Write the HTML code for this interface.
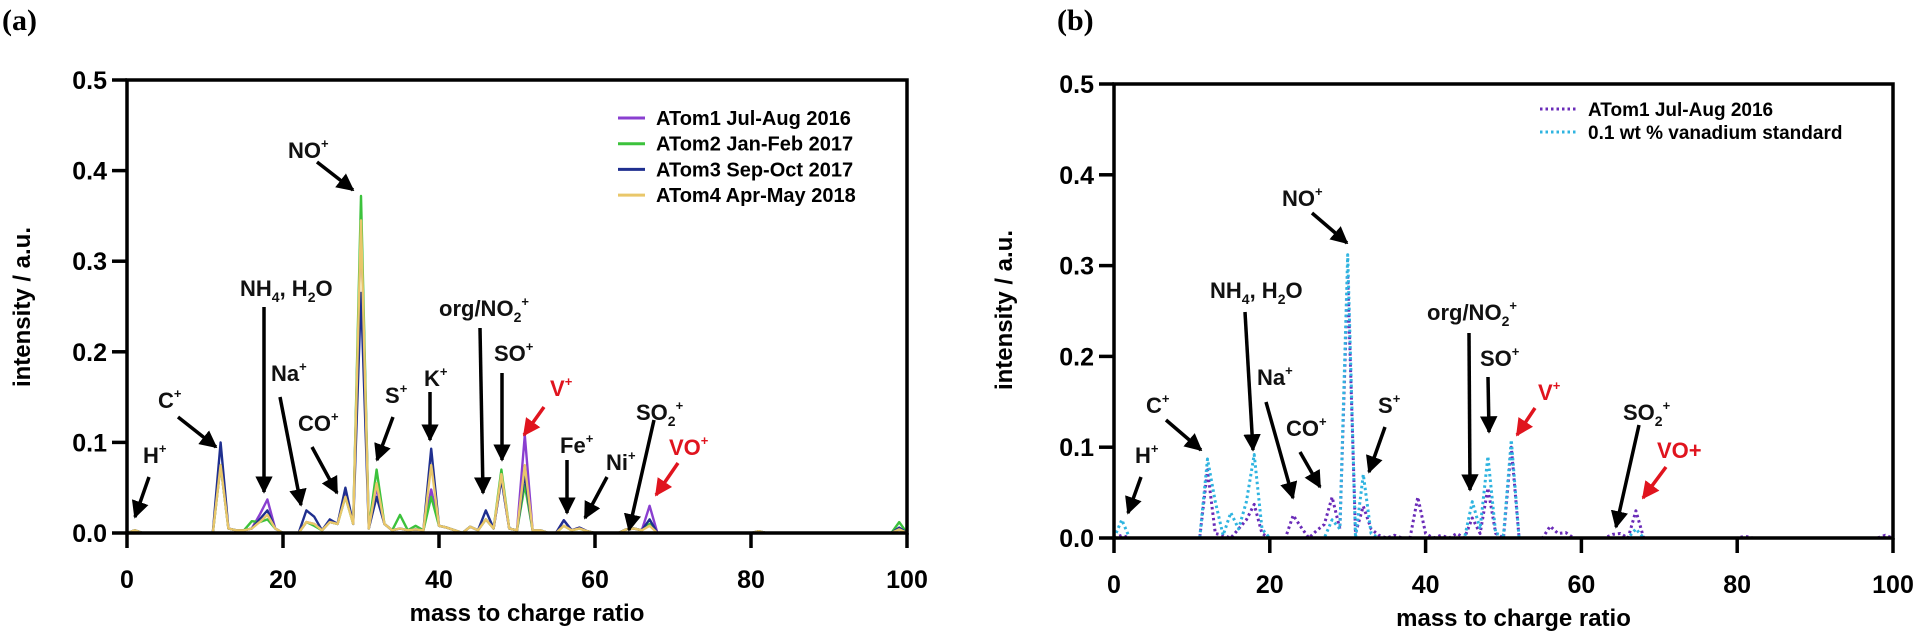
<!DOCTYPE html>
<html><head><meta charset="utf-8">
<style>
html,body{margin:0;padding:0;background:#fff;}
svg{display:block;font-family:"Liberation Sans",Arial,sans-serif;font-weight:bold;}
</style></head>
<body>
<svg id="fig" width="1915" height="635" viewBox="0 0 1915 635" xmlns="http://www.w3.org/2000/svg">
<defs>
<marker id="ak" viewBox="0 0 10 10" refX="9" refY="5" markerWidth="5" markerHeight="5" orient="auto" markerUnits="strokeWidth"><path d="M0,0 L10,5 L0,10 z" fill="#000"/></marker>
<marker id="ar" viewBox="0 0 10 10" refX="9" refY="5" markerWidth="5" markerHeight="5" orient="auto" markerUnits="strokeWidth"><path d="M0,0 L10,5 L0,10 z" fill="#e0141e"/></marker>
</defs>
<g id="pa"></g>
<g id="pb"></g>
</svg>
<script>
// ---------- data ----------
const massesA = [1,12,13,14,15,16,17,18,19,23,24,25,26,27,28,29,30,31,32,33,34,35,36,37,38,39,40,41,42,44,45,46,47,48,49,50,51,52,53,56,57,58,59,64,65,66,67,81,99];
const atom1 = [.003,.075,.005,.003,.003,.005,.02,.037,.005,.012,.01,.003,.012,.01,.045,.01,.35,.005,.05,.01,.003,.005,.003,.004,.003,.048,.008,.006,.003,.007,.003,.015,.005,.06,.005,.003,.108,.003,.003,.014,.003,.006,.002,.004,.005,.003,.03,.002,.004];
const atom2 = [.003,.075,.005,.003,.003,.013,.012,.015,.005,.012,.008,.003,.012,.01,.04,.01,.372,.005,.07,.01,.003,.02,.003,.008,.003,.04,.008,.006,.003,.007,.003,.015,.005,.07,.005,.003,.053,.003,.003,.008,.003,.005,.002,.004,.005,.003,.01,.002,.012];
const atom3 = [.003,.10,.005,.003,.003,.005,.015,.025,.005,.025,.018,.003,.015,.01,.05,.01,.265,.005,.04,.01,.003,.005,.003,.004,.003,.093,.008,.006,.003,.007,.003,.025,.005,.06,.005,.003,.065,.003,.003,.014,.003,.006,.002,.004,.005,.003,.015,.002,.006];
const atom4 = [.003,.075,.005,.003,.003,.005,.012,.02,.005,.012,.01,.003,.012,.01,.04,.01,.345,.005,.055,.01,.003,.005,.003,.004,.003,.075,.008,.006,.003,.007,.003,.015,.005,.065,.005,.003,.075,.003,.003,.008,.003,.005,.002,.004,.005,.003,.008,.002,.004];
const massesB = [1,12,13,14,15,16,17,18,19,23,24,26,27,28,29,30,31,32,33,34,36,39,40,42,44,46,47,48,49,50,51,56,57,58,64,65,67,81,99];
const vStandard = [.02,.087,.04,.003,.028,.01,.04,.092,.01,0,0,0,0,.02,.01,.312,0,.07,.005,0,0,0,0,0,0,.04,.01,.09,.005,.003,.108,0,0,0,0,0,.01,0,0];
const atom1B = [.003,.075,.005,.003,0,.01,.02,.037,.005,.025,.012,.008,.015,.045,.01,.29,.005,.035,.01,.003,.003,.045,.005,.003,.005,.022,.005,.055,.005,0,.1,.013,.005,.006,.004,.005,.03,.002,.003];
const xTicks = [0,20,40,60,80,100];
const yTicks = [0,0.1,0.2,0.3,0.4,0.5];
const yTickLabels = ["0.0","0.1","0.2","0.3","0.4","0.5"];

const NS="http://www.w3.org/2000/svg";
function mk(tag, parent, attrs){const e=document.createElementNS(NS,tag);for(const k in attrs)e.setAttribute(k,attrs[k]);parent.appendChild(e);return e;}

function full(masses, vals){const a=new Array(101).fill(0);masses.forEach((m,i)=>{a[m]=vals[i]||0;});return a;}

function drawPanel(g, cfg){
  const sx=v=>cfg.x0+(cfg.x1-cfg.x0)*v/100, sy=v=>cfg.y0-(cfg.y0-cfg.yTop)*v/0.5;
  cfg.series.forEach(s=>{
    const arr=full(s.m,s.v);
    let d="";arr.forEach((v,i)=>{d+=(i?"L":"M")+sx(i).toFixed(1)+","+sy(v).toFixed(1);});
    const p=mk("path",g,{d:d,fill:"none",stroke:s.color,"stroke-width":s.dash?3:2.4,"stroke-linejoin":"round"});
    if(s.dash)p.setAttribute("stroke-dasharray","2.5 3");
    
    
  });
  const fr=mk("rect",g,{x:sx(0),y:sy(0.5),width:sx(100)-sx(0),height:sy(0)-sy(0.5),fill:"none",stroke:"#000","stroke-width":3.5});
  
  
  yTicks.forEach((t,i)=>{
    const tk=mk("line",g,{x1:sx(0)-15,x2:sx(0),y1:sy(t),y2:sy(t),stroke:"#000","stroke-width":3.5});
    
    
    const tl=mk("text",g,{x:sx(0)-20,y:sy(t)+9,"text-anchor":"end","font-size":25});
    tl.textContent=yTickLabels[i];
    
    
  });
  xTicks.forEach(t=>{
    const tk=mk("line",g,{x1:sx(t),x2:sx(t),y1:sy(0),y2:sy(0)+15,stroke:"#000","stroke-width":3.5});
    
    
    const tl=mk("text",g,{x:sx(t),y:sy(0)+55,"text-anchor":"middle","font-size":25});
    tl.textContent=String(t);
    
    
  });
  const xl=mk("text",g,{x:(sx(0)+sx(100))/2+10,y:sy(0)+88,"text-anchor":"middle","font-size":24});
  xl.textContent="mass to charge ratio";
  
  
  const yl=mk("text",g,{x:0,y:0,"text-anchor":"middle","font-size":24,transform:`translate(${cfg.ylx},${cfg.yly}) rotate(-90)`});
  yl.textContent="intensity / a.u.";
  
  
  const tt=mk("text",g,{x:cfg.tx,y:30,"font-size":30,"font-family":"Liberation Serif, serif"});
  tt.textContent=cfg.title;
  
  
  cfg.legend.forEach((L,i)=>{
    const y=cfg.legY+i*cfg.legDy;
    const ln=mk("line",g,{x1:cfg.legX,x2:cfg.legX+cfg.legW,y1:y,y2:y,stroke:L.color,"stroke-width":3});
    if(L.dash)ln.setAttribute("stroke-dasharray","2.5 3");
    
    
    const tx=mk("text",g,{x:cfg.legX+cfg.legW+11,y:y+7,"font-size":cfg.legFs});
    tx.textContent=L.label;
    
    
  });
  cfg.ann.forEach(a=>{
    const red=a.red;
    const t=mk("text",g,{x:a.tx,y:a.ty+8,"font-size":22,fill:red?"#e0141e":"#111"});
    t.innerHTML=a.html;
    
    
    const l=mk("line",g,{x1:a.a[0],y1:a.a[1],x2:a.a[2],y2:a.a[3],stroke:red?"#e0141e":"#000","stroke-width":3.5,"marker-end":red?"url(#ar)":"url(#ak)"});
    
    
  });
}
const sup=s=>`<tspan baseline-shift="10" font-size="13">${s}</tspan>`;
const sub=s=>`<tspan baseline-shift="-6" font-size="14">${s}</tspan>`;

drawPanel(document.getElementById('pa'),{
  x0:127,x1:907,y0:533,yTop:80,ylx:30,yly:307,tx:2,title:"(a)",
  series:[
    {name:"atom1-line",m:massesA,v:atom1,color:"#8a3fd0"},
    {name:"atom2-line",m:massesA,v:atom2,color:"#3cc23c"},
    {name:"atom3-line",m:massesA,v:atom3,color:"#1f2f8f"},
    {name:"atom4-line",m:massesA,v:atom4,color:"#e9c76a"}],
  legX:618,legW:27,legY:118,legDy:25.7,legFs:20,
  legend:[{label:"ATom1 Jul-Aug 2016",color:"#8a3fd0"},{label:"ATom2 Jan-Feb 2017",color:"#3cc23c"},{label:"ATom3 Sep-Oct 2017",color:"#1f2f8f"},{label:"ATom4 Apr-May 2018",color:"#e9c76a"}],
  ann:[
    {tx:288,ty:150,html:"NO"+sup("+"),a:[317,162,353,190]},
    {tx:240,ty:288,html:"NH"+sub("4")+", H"+sub("2")+"O",a:[264,307,264,492]},
    {tx:439,ty:308,html:"org/NO"+sub("2")+sup("+"),a:[480,328,483,493]},
    {tx:494,ty:353,html:"SO"+sup("+"),a:[502,373,502,460]},
    {tx:271,ty:373,html:"Na"+sup("+"),a:[280,397,301,505]},
    {tx:298,ty:423,html:"CO"+sup("+"),a:[312,447,337,493]},
    {tx:385,ty:395,html:"S"+sup("+"),a:[393,417,377,460]},
    {tx:424,ty:378,html:"K"+sup("+"),a:[430,392,430,440]},
    {tx:158,ty:400,html:"C"+sup("+"),a:[178,417,216,447]},
    {tx:143,ty:455,html:"H"+sup("+"),a:[149,477,135,517]},
    {tx:550,ty:388,html:"V"+sup("+"),red:1,a:[544,407,524,435]},
    {tx:636,ty:412,html:"SO"+sub("2")+sup("+"),a:[654,420,629,530]},
    {tx:560,ty:445,html:"Fe"+sup("+"),a:[567,460,567,513]},
    {tx:606,ty:462,html:"Ni"+sup("+"),a:[607,477,585,518]},
    {tx:669,ty:447,html:"VO"+sup("+"),red:1,a:[678,463,656,495]}]
});
drawPanel(document.getElementById('pb'),{
  x0:1114,x1:1893,y0:538,yTop:84,ylx:1012,yly:310,tx:1057,title:"(b)",
  series:[
    {name:"atom1-dotted-line",m:massesB,v:atom1B,color:"#6a2bb8",dash:1},
    {name:"vanadium-standard-dotted-line",m:massesB,v:vStandard,color:"#2fb4e0",dash:1}],
  legX:1540,legW:37,legY:109,legDy:23,legFs:19,
  legend:[{label:"ATom1 Jul-Aug 2016",color:"#6a2bb8",dash:1},{label:"0.1 wt % vanadium standard",color:"#2fb4e0",dash:1}],
  ann:[
    {tx:1282,ty:198,html:"NO"+sup("+"),a:[1312,213,1347,243]},
    {tx:1210,ty:290,html:"NH"+sub("4")+", H"+sub("2")+"O",a:[1245,312,1253,450]},
    {tx:1427,ty:312,html:"org/NO"+sub("2")+sup("+"),a:[1469,333,1470,490]},
    {tx:1480,ty:358,html:"SO"+sup("+"),a:[1488,377,1489,432]},
    {tx:1538,ty:392,html:"V"+sup("+"),red:1,a:[1535,408,1517,435]},
    {tx:1257,ty:377,html:"Na"+sup("+"),a:[1266,402,1293,498]},
    {tx:1286,ty:428,html:"CO"+sup("+"),a:[1300,452,1320,487]},
    {tx:1378,ty:405,html:"S"+sup("+"),a:[1385,427,1369,472]},
    {tx:1146,ty:405,html:"C"+sup("+"),a:[1166,420,1201,450]},
    {tx:1135,ty:455,html:"H"+sup("+"),a:[1141,477,1128,513]},
    {tx:1623,ty:412,html:"SO"+sub("2")+sup("+"),a:[1639,425,1616,527]},
    {tx:1657,ty:450,html:"VO+",red:1,a:[1666,467,1643,498]}]
});
</script>
</body></html>
